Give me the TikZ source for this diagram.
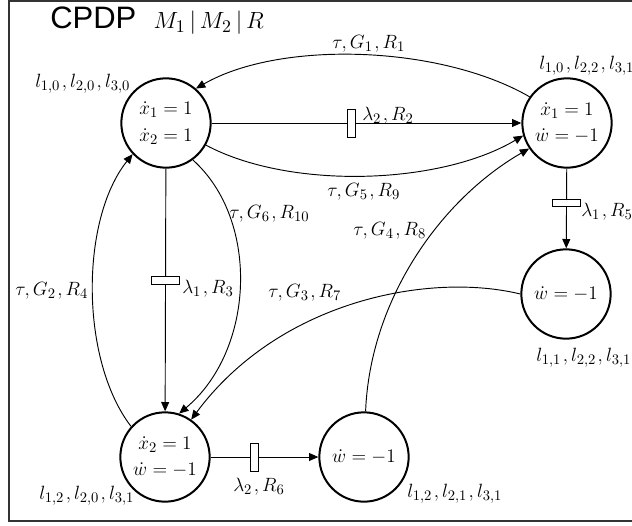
\documentclass[tikz,border=0pt]{standalone}
\usepackage{fontspec}
\newfontfamily\arialfont{Liberation Sans}
\usetikzlibrary{arrows.meta}
\newcommand{\cm}{\mkern1.5mu,}
\begin{document}
\begin{tikzpicture}[x=0.75pt,y=-0.75pt,
  state/.style={circle, draw, line width=1.5pt, minimum size=67pt, inner sep=0pt, align=center, font=\fontsize{15}{20}\selectfont},
  lab/.style={inner sep=0pt, anchor=west, font=\fontsize{15.5}{19}\selectfont},
  edge/.style={line width=0.7pt, -{Triangle[length=7pt,width=6pt]}},
  vbar/.style={draw, fill=white, line width=0.6pt, minimum width=6pt, minimum height=21pt, inner sep=0pt},
  hbar/.style={draw, fill=white, line width=0.6pt, minimum width=21pt, minimum height=5.5pt, inner sep=0pt},
]
\useasboundingbox (0,0) rectangle (632,525);
\draw[line width=1.1pt, black!80] (9,1) rectangle (660,521);

% states
\node[state] (A) at (166,123) {$\dot x_1=1$\\$\dot x_2=1$};
\node[state] (B) at (567,123) {$\dot x_1=1$\\$\dot w=-1$};
\node[state] (C) at (566,294) {$\dot w=-1$};
\node[state] (D) at (165,457) {$\dot x_2=1$\\$\dot w=-1$};
\node[state] (E) at (364,457) {$\dot w=-1$};

% title and state labels
\node[lab] (title) at (50,21) {\scalebox{1.5}{\arialfont CPDP}\hspace{13pt}\scalebox{1.22}{$M_1\mkern3mu\vert\mkern3mu M_2\mkern3mu\vert\mkern3mu R$}};
\node[lab] (la) at (35,84) {$l_{1,0}\cm l_{2,0}\cm l_{3,0}$};
\node[lab] (lb) at (539,66) {$l_{1,0}\cm l_{2,2}\cm l_{3,1}$};
\node[lab] (lc) at (536,358) {$l_{1,1}\cm l_{2,2}\cm l_{3,1}$};
\node[lab] (ld) at (39,496) {$l_{1,2}\cm l_{2,0}\cm l_{3,1}$};
\node[lab] (le) at (407,494) {$l_{1,2}\cm l_{2,1}\cm l_{3,1}$};

% edges
\draw[edge] (B.145) .. controls (440,45) and (280,40) .. (A.49);
\draw[edge] (A) -- node[pos=0.45, vbar]{} (B);
\draw[edge] (A.-29) .. controls (290,190) and (440,185) .. (B.196);
\draw[edge] (A) -- node[pos=0.46, hbar]{} (D);
\draw[edge] (A.-54) .. controls (260,220) and (255,350) .. (D.72);
\draw[edge] (D.138) .. controls (80,360) and (80,220) .. (A.223);
\draw[edge] (C.180) .. controls (430,272) and (280,300) .. (D.55);
\draw[edge] (E.88) .. controls (370,300) and (440,200) .. (B.214);
\draw[edge] (B) -- node[pos=0.43, hbar]{} (C);
\draw[edge] (D) -- node[pos=0.41, vbar]{} (E);

% edge labels
\node[lab] (t1) at (332,44) {$\tau,G_1\cm R_1$};
\node[lab] (t2) at (362,116) {$\lambda_2\cm R_2$};
\node[lab] (t3) at (327,192) {$\tau,G_5\cm R_9$};
\node[lab] (t4) at (353,231) {$\tau,G_4\cm R_8$};
\node[lab] (t5) at (229,214) {$\tau,G_6\cm R_{10}$};
\node[lab] (t6) at (15,291) {$\tau,G_2\cm R_4$};
\node[lab] (t7) at (182,289) {$\lambda_1\cm R_3$};
\node[lab] (t8) at (268,293) {$\tau,G_3\cm R_7$};
\node[lab] (t9) at (581,212) {$\lambda_1\cm R_5$};
\node[lab] (t10) at (233,487) {$\lambda_2\cm R_6$};
\end{tikzpicture}
\end{document}
